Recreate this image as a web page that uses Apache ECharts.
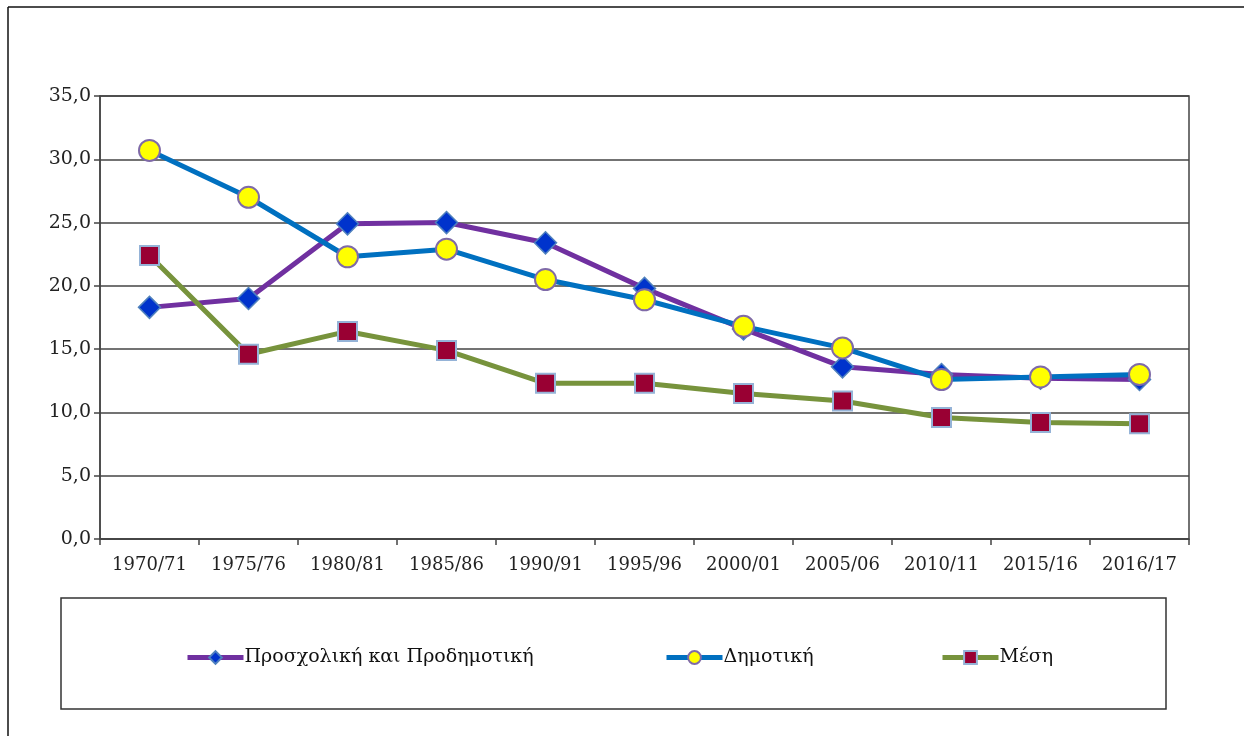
<!DOCTYPE html>
<html>
<head>
<meta charset="utf-8">
<script src="https://cdn.jsdelivr.net/npm/echarts@6/dist/echarts.min.js"></script>
<style>
  html, body { margin: 0; padding: 0; background: #fff; }
  #chart { width: 1244px; height: 736px; }
</style>
</head>
<body>
<div id="chart"></div>
<script>
  // δεδομένα
  var years = ['1970/71', '1975/76', '1980/81', '1985/86', '1990/91', '1995/96',
    '2000/01', '2005/06', '2010/11', '2015/16', '2016/17'];
  var prosxoliki = [18.3, 19.0, 24.9, 25.0, 23.4, 19.8, 16.6, 13.6, 13.0, 12.7, 12.6];
  var dimotiki = [30.7, 27.0, 22.3, 22.9, 20.5, 18.9, 16.8, 15.1, 12.6, 12.8, 13.0];
  var mesi = [22.4, 14.6, 16.4, 14.9, 12.3, 12.3, 11.5, 10.9, 9.6, 9.2, 9.1];
  var names = ['Προσχολική και Προδημοτική', 'Δημοτική', 'Μέση'];

  var font = 'DejaVu Serif';
  var myChart = echarts.init(document.getElementById('chart'));

  function legendAt(name, left) {
    return {
      data: [name],
      left: left,
      top: 648,
      padding: 0,
      itemWidth: 56,
      itemHeight: 16,
      itemGap: 0,
      lineStyle: { width: 5 },
      textStyle: { fontFamily: font, fontSize: 19, color: '#111', padding: [0, 0, 0, -4] }
    };
  }

  var option = {
    backgroundColor: '#fff',
    animation: false,
    grid: { left: 100, right: 55, top: 96, bottom: 197, show: true, borderColor: '#444', borderWidth: 1.5 },
    legend: [
      legendAt(names[0], 185),
      legendAt(names[1], 664),
      legendAt(names[2], 940)
    ],
    xAxis: {
      type: 'category',
      data: years,
      boundaryGap: true,
      axisLine: { lineStyle: { color: '#444', width: 1.5 } },
      axisTick: { show: true, length: 6, lineStyle: { color: '#444', width: 1.5 } },
      axisLabel: { fontFamily: font, fontSize: 18, color: '#222', margin: 17 }
    },
    yAxis: {
      type: 'value',
      min: 0,
      max: 35,
      interval: 5,
      axisLine: { show: true, lineStyle: { color: '#444', width: 1.5 } },
      axisTick: { show: true, length: 6, lineStyle: { color: '#444', width: 1.5 } },
      splitLine: { lineStyle: { color: '#444', width: 1.5 } },
      axisLabel: {
        fontFamily: font, fontSize: 19, color: '#222', margin: 9,
        formatter: function (v) { return v.toFixed(1).replace('.', ','); }
      }
    },
    series: [
      {
        name: names[0],
        type: 'line',
        data: prosxoliki,
        symbol: 'diamond',
        symbolSize: 22,
        z: 2,
        lineStyle: { color: '#7030A0', width: 5 },
        itemStyle: { color: '#0033CC', borderColor: '#4F81BD', borderWidth: 1.5 }
      },
      {
        name: names[1],
        type: 'line',
        data: dimotiki,
        symbol: 'circle',
        symbolSize: 21,
        z: 3,
        lineStyle: { color: '#0070C0', width: 5 },
        itemStyle: { color: '#FFFF00', borderColor: '#7F6AA8', borderWidth: 2 }
      },
      {
        name: names[2],
        type: 'line',
        data: mesi,
        symbol: 'rect',
        symbolSize: 19,
        z: 4,
        lineStyle: { color: '#77933C', width: 5 },
        itemStyle: { color: '#990033', borderColor: '#95B3D7', borderWidth: 2 }
      }
    ],
    graphic: [
      { type: 'line', shape: { x1: 8, y1: 7, x2: 1244, y2: 7 }, style: { stroke: '#111', lineWidth: 1.5 } },
      { type: 'line', shape: { x1: 8, y1: 7, x2: 8, y2: 736 }, style: { stroke: '#111', lineWidth: 1.5 } },
      { type: 'rect', shape: { x: 61, y: 598, width: 1105, height: 111 }, style: { fill: 'none', stroke: '#333', lineWidth: 1.5 } }
    ]
  };

  myChart.setOption(option);
</script>
</body>
</html>
